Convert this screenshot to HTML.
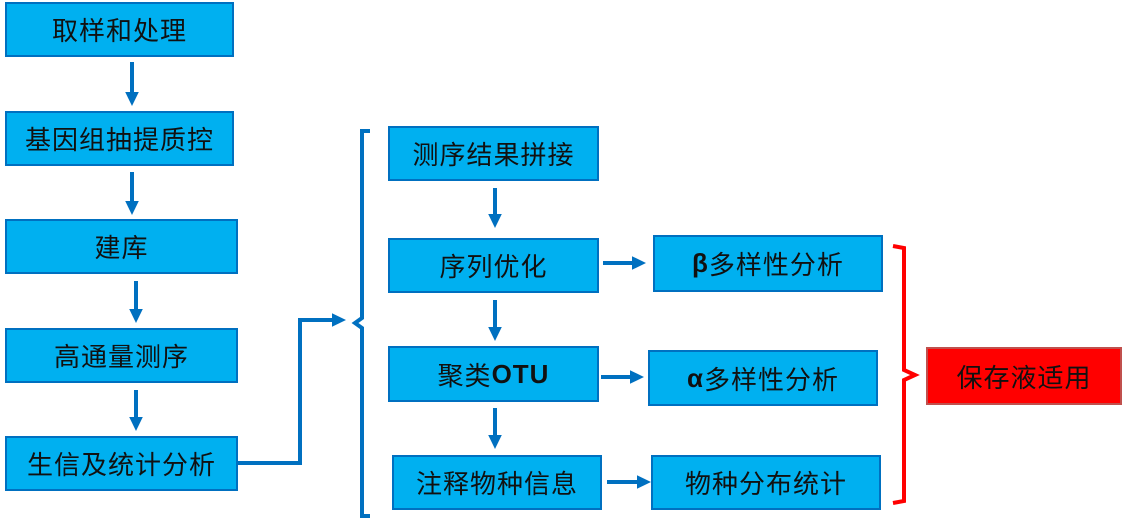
<!DOCTYPE html>
<html><head><meta charset="utf-8"><style>
body{margin:0;width:1123px;height:520px;background:#fff;position:relative;overflow:hidden;font-family:"Liberation Sans","Noto Sans CJK SC",sans-serif}
.b{position:absolute;background:#00b0f0;border:2px solid #0070c0;box-sizing:border-box;display:flex;align-items:center;justify-content:center;font-size:26px;color:#111;letter-spacing:1px}
.r{background:#ff0000;border-color:#c0504d}
svg{position:absolute;left:0;top:0}
</style></head><body>
<svg width="1123" height="520">
<defs><marker id="a" markerWidth="4" markerHeight="4" refX="2" refY="2" orient="auto"><path d="M0,0.3L3.5,2L0,3.7z" fill="#0070c0"/></marker></defs>
<g stroke="#0070c0" stroke-width="4" fill="none">
<line x1="132" y1="62" x2="132" y2="100" marker-end="url(#a)"/>
<line x1="132" y1="172" x2="132" y2="209" marker-end="url(#a)"/>
<line x1="136" y1="281" x2="136" y2="317" marker-end="url(#a)"/>
<line x1="136" y1="390" x2="136" y2="425" marker-end="url(#a)"/>
<polyline points="238,463 300,463 300,320 340,320" marker-end="url(#a)"/>
<path d="M370,131 L362,131 L362,318 L355,323 L362,328 L362,516 L370,516"/>
<line x1="495" y1="188" x2="495" y2="222" marker-end="url(#a)"/>
<line x1="495" y1="300" x2="495" y2="335" marker-end="url(#a)"/>
<line x1="495" y1="408" x2="495" y2="443" marker-end="url(#a)"/>
<line x1="603" y1="263" x2="640" y2="263" marker-end="url(#a)"/>
<line x1="601" y1="377" x2="638" y2="377" marker-end="url(#a)"/>
<line x1="607" y1="482" x2="645" y2="482" marker-end="url(#a)"/>
</g>
<path d="M893,246 L904,248 L904,370 L915,375 L904,380 L904,501 L893,503" stroke="#ff0000" stroke-width="4" fill="none"/>
</svg>
<div class="b" style="left:5px;top:2px;width:229px;height:55px">取样和处理</div>
<div class="b" style="left:5px;top:111px;width:229px;height:55px">基因组抽提质控</div>
<div class="b" style="left:5px;top:219px;width:233px;height:55px">建库</div>
<div class="b" style="left:5px;top:328px;width:233px;height:55px">高通量测序</div>
<div class="b" style="left:5px;top:436px;width:233px;height:55px">生信及统计分析</div>
<div class="b" style="left:388px;top:126px;width:211px;height:55px">测序结果拼接</div>
<div class="b" style="left:388px;top:238px;width:211px;height:55px">序列优化</div>
<div class="b" style="left:388px;top:346px;width:211px;height:56px">聚类<b>OTU</b></div>
<div class="b" style="left:392px;top:455px;width:210px;height:55px">注释物种信息</div>
<div class="b" style="left:653px;top:235px;width:230px;height:57px"><b>β</b>多样性分析</div>
<div class="b" style="left:648px;top:350px;width:230px;height:56px"><b>α</b>多样性分析</div>
<div class="b" style="left:651px;top:455px;width:230px;height:55px">物种分布统计</div>
<div class="b r" style="left:926px;top:347px;width:196px;height:58px">保存液适用</div>
</body></html>
